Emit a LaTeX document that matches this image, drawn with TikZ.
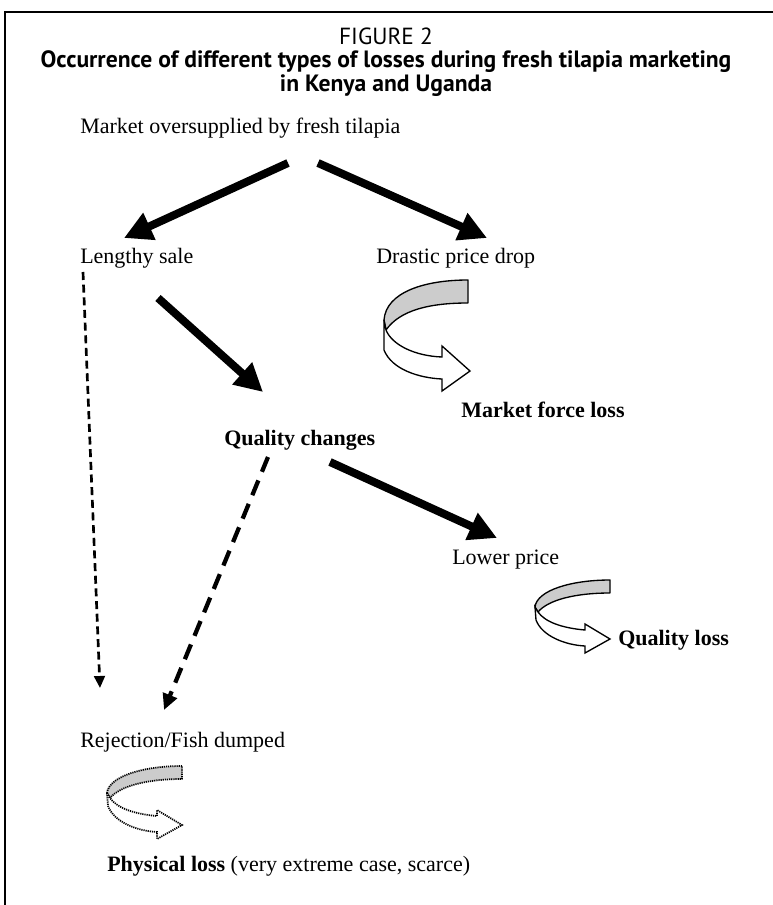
\documentclass[tikz,border=0pt]{standalone}
\usepackage{fontspec}
\setmainfont{Liberation Serif}
\newfontfamily\titlefont{PT Sans}
\usetikzlibrary{arrows.meta}
\definecolor{bandgray}{RGB}{204,204,204}
\tikzset{
  lbl/.style={anchor=west, inner sep=0pt, font=\fontsize{16.5}{19}\selectfont},
  lblb/.style={anchor=west, inner sep=0pt, font=\fontsize{16.5}{19}\selectfont\bfseries},
  ttl/.style={inner sep=0pt, font=\titlefont\fontsize{17.5}{20}\selectfont},
  ttlb/.style={inner sep=0pt, font=\titlefont\fontsize{17.7}{20}\selectfont\bfseries},
  bigarrow/.style={line width=6pt, -{Triangle[length=21pt,width=21pt]}},
  dotarrow/.style={line width=2pt, dash pattern=on 6pt off 3.5pt, -{Triangle[length=9pt,width=8pt]}},
  dasharrow/.style={line width=3.2pt, dash pattern=on 12pt off 7pt, -{Triangle[length=12pt,width=11pt]}},
  bandtop/.style={fill=bandgray, draw=black, line width=1pt, line join=round},
  bandfront/.style={fill=white, draw=black, line width=1pt, line join=miter},
  dottedband/.style={line width=1.3pt, dash pattern=on 0.9pt off 0.7pt}
}
\newcommand{\uturnsmall}[1]{%
  \filldraw[bandtop,#1] (610,580) .. controls (572,580) and (537,590) .. (535,607)
     -- (538,612) .. controls (548,600) and (575,593) .. (610,593) -- cycle;
  \filldraw[bandfront,#1] (535,607) -- (536,620) .. controls (542,636) and (565,645) .. (585,646)
     -- (585,653) -- (610,639) -- (585,624) -- (585,630)
     .. controls (562,628) and (545,622) .. (538,612) -- cycle;
}
\begin{document}
\begin{tikzpicture}[x=0.75pt, y=-0.75pt]
\useasboundingbox (0,0) rectangle (773,905);
% frame
\draw[line width=0.8pt] (5,905) -- (5,12) -- (773,12);
% title
\node[ttl] (fig) at (386,36) {FIGURE 2};
\node[ttlb] (t1) at (386,62) {Occurrence of different types of losses during fresh tilapia marketing};
\node[ttlb] (t2) at (386,86) {in Kenya and Uganda};
% labels
\node[lbl] (market) at (80,128) {Market oversupplied by fresh tilapia};
\node[lbl] (lengthy) at (80,258) {Lengthy sale};
\node[lbl] (drastic) at (376,258) {Drastic price drop};
\node[lblb] (mforce) at (461,410) {Market force loss};
\node[lblb] (qchange) at (224,440) {Quality changes};
\node[lbl] (lower) at (452,560) {Lower price};
\node[lblb] (qloss) at (618,640) {Quality loss};
\node[lbl] (reject) at (80,742) {Rejection/Fish dumped};
\node[lbl] (phys) at (107,866) {\textbf{Physical loss} (very extreme case, scarce)};
% arrow end points
\coordinate (a1s) at (288,163);
\coordinate (a1e) at (124,238);
\coordinate (a2s) at (318,163);
\coordinate (a2e) at (487,238);
\coordinate (a3s) at (158,298);
\coordinate (a3e) at (263,392);
\coordinate (a4s) at (330,462);
\coordinate (a4e) at (497,538);
\coordinate (d1s) at (83,272);
\coordinate (d1e) at (100,688);
\coordinate (d2s) at (268,457);
\coordinate (d2e) at (164,710);
% arrows
\draw[bigarrow] (a1s) -- (a1e);
\draw[bigarrow] (a2s) -- (a2e);
\draw[bigarrow] (a3s) -- (a3e);
\draw[bigarrow] (a4s) -- (a4e);
\draw[dotarrow] (d1s) -- (d1e);
\draw[dasharrow] (d2s) -- (d2e);
% u-turn arrow (market force loss)
\filldraw[bandtop] (468,280) .. controls (425,280) and (386,292) .. (384,320)
   -- (386,330) .. controls (400,310) and (430,303) .. (468,303) -- cycle;
\filldraw[bandfront] (384,320) -- (384,350) .. controls (392,370) and (420,378) .. (442,379)
   -- (442,391) -- (470,371) -- (442,346) -- (442,357)
   .. controls (415,356) and (392,345) .. (386,330) -- cycle;
% u-turn arrow (quality loss)
\uturnsmall{}
% u-turn arrow (physical loss), dotted
\begin{scope}[shift={(-428,186)}]
\uturnsmall{dottedband}
\end{scope}
\end{tikzpicture}
\end{document}
